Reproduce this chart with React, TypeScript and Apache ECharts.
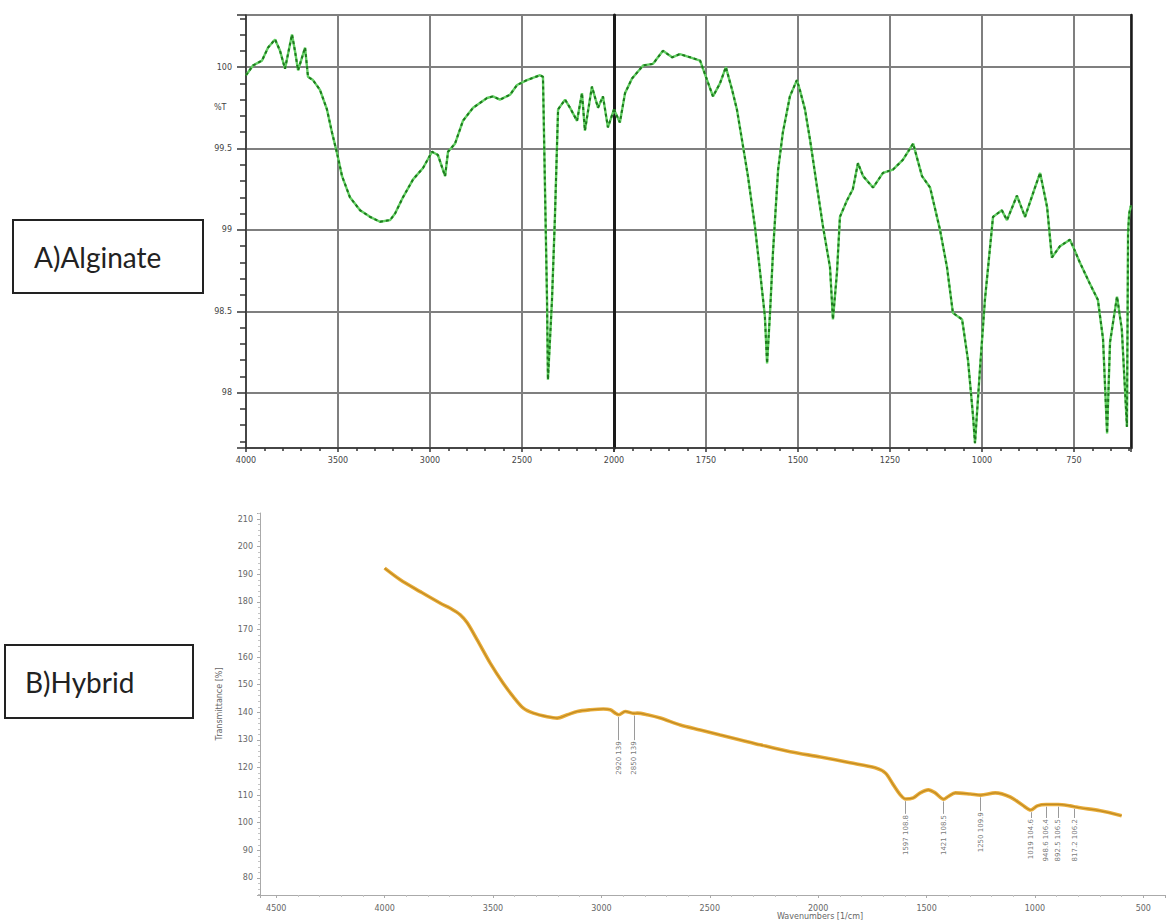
import React, { useEffect, useRef } from "react";
import * as echarts from "echarts";

// ---------- A) Alginate FTIR (wavenumber cm-1, %T) ----------
const alginateWn = [
  4000, 3962, 3913, 3880, 3842, 3815, 3788, 3750, 3734, 3717, 3679, 3663, 3636, 3598, 3560, 3533, 3505, 3478,
  3435, 3380, 3326, 3272, 3217, 3190, 3147, 3092, 3038, 2989, 2957, 2918, 2902, 2864, 2821, 2766, 2690, 2658,
  2620, 2565, 2527, 2473, 2402, 2386, 2364, 2359, 2337, 2321, 2304, 2266, 2239, 2201, 2174, 2158, 2120, 2087,
  2060, 2033, 2000, 1984, 1970, 1951, 1921, 1894, 1867, 1842, 1821, 1793, 1766, 1747, 1731, 1712, 1696, 1679,
  1666, 1652, 1636, 1617, 1603, 1590, 1584, 1576, 1568, 1554, 1541, 1522, 1503, 1495, 1481, 1467, 1448, 1432,
  1413, 1405, 1394, 1386, 1367, 1351, 1337, 1323, 1296, 1269, 1242, 1215, 1187, 1163, 1141, 1114, 1095, 1079,
  1054, 1038, 1024, 1019, 1005, 992, 970, 946, 932, 905, 883, 856, 842, 823, 810, 788, 761, 753, 734, 707, 685,
  671, 660, 652, 633, 620, 606, 603, 600, 595,
];
const alginateT = [
  99.95, 100.01, 100.04, 100.12, 100.17, 100.1, 99.99, 100.2, 100.1, 99.98, 100.12, 99.94, 99.92, 99.86, 99.74,
  99.6, 99.47, 99.33, 99.2, 99.12, 99.08, 99.05, 99.06, 99.1, 99.2, 99.31, 99.38, 99.48, 99.46, 99.33, 99.48,
  99.53, 99.67, 99.75, 99.81, 99.82, 99.8, 99.83, 99.89, 99.92, 99.95, 99.94, 98.57, 98.08, 98.57, 99.08, 99.74,
  99.8, 99.75, 99.67, 99.84, 99.61, 99.88, 99.75, 99.82, 99.63, 99.74, 99.66, 99.84, 99.93, 100.01, 100.02,
  100.1, 100.06, 100.08, 100.06, 100.04, 99.92, 99.82, 99.9, 100.0, 99.86, 99.74, 99.55, 99.33, 99.02, 98.74,
  98.47, 98.18, 98.49, 98.86, 99.37, 99.6, 99.82, 99.92, 99.86, 99.74, 99.55, 99.26, 99.02, 98.77, 98.45, 98.74,
  99.08, 99.18, 99.25, 99.41, 99.33, 99.26, 99.35, 99.37, 99.43, 99.53, 99.33, 99.26, 99.0, 98.77, 98.49, 98.45,
  98.2, 97.85, 97.69, 98.16, 98.57, 99.08, 99.12, 99.06, 99.21, 99.08, 99.26, 99.35, 99.14, 98.83, 98.9, 98.94,
  98.9, 98.8, 98.67, 98.57, 98.33, 97.75, 98.31, 98.59, 98.39, 97.79, 98.98, 99.1, 99.15,
];

// ---------- B) Hybrid FTIR (wavenumber cm-1, Transmittance %) ----------
const hybridWn = [
  4000, 3928, 3836, 3743, 3697, 3651, 3619, 3573, 3513, 3453, 3407, 3360, 3314, 3250, 3204, 3157, 3111, 3051,
  2991, 2959, 2936, 2920, 2890, 2850, 2835, 2788, 2728, 2636, 2544, 2452, 2359, 2267, 2129, 1990, 1852, 1737,
  1690, 1653, 1621, 1597, 1561, 1529, 1492, 1460, 1421, 1400, 1367, 1298, 1250, 1183, 1114, 1058, 1019, 989,
  948.6, 892.5, 837, 817.2, 791, 698, 600,
];
const hybridT = [
  192.2, 188.0, 183.7, 179.5, 177.7, 175.3, 172.4, 166.2, 157.8, 150.5, 145.7, 141.5, 139.7, 138.4, 137.9, 139.1,
  140.3, 140.9, 141.2, 140.9, 139.7, 139.1, 140.3, 139.6, 139.7, 139.1, 137.9, 135.4, 133.6, 131.8, 130.0, 128.2,
  125.7, 123.8, 121.7, 119.9, 118.0, 113.7, 110.1, 108.6, 109.0, 110.8, 111.9, 110.8, 108.5, 109.5, 110.8, 110.4,
  110.0, 110.8, 109.3, 106.4, 104.6, 106.1, 106.6, 106.6, 106.1, 105.8, 105.4, 104.3, 102.5,
];

// Peak annotations of the hybrid spectrum
const peakWn = [2920, 2850, 1597, 1421, 1250, 1019, 948.6, 892.5, 817.2];
const peakCurveT = [139.1, 139.6, 108.6, 108.5, 110.0, 104.6, 106.6, 106.6, 105.8];
const peakLabelTopT = [129.5, 129.5, 102.8, 102.8, 103.8, 101.3, 101.3, 101.3, 101.3];
const peakLabels = [
  "2920 139", "2850 139", "1597 108.8", "1421 108.5", "1250 109.9",
  "1019 104.6", "948.6 106.4", "892.5 106.5", "817.2 106.2",
];

// Panel captions
const panelTitles = ["A)Alginate", "B)Hybrid"];

export default function App() {
  const ref = useRef<HTMLDivElement>(null);

  useEffect(() => {
    if (!ref.current) return;
    const chart = echarts.init(ref.current, null, { renderer: "svg" });

    const ptsA: number[][] = [];
    const ptsB: number[][] = [];
    alginateWn.forEach((w, i) => {
      if (w >= 2000) ptsA.push([w, alginateT[i]]);
      if (w <= 2000) ptsB.push([-w, alginateT[i]]);
    });
    const hybridPts = hybridWn.map((w, i) => [w, hybridT[i]]);
    const peakPts = peakWn.map((w, i) => [w, peakLabelTopT[i]]);

    const gridCol = "#7f7f7f";
    const darkAx = "#333";
    const topFmt = (v: number) => {
      const r = Math.round(v * 2) / 2;
      if (Math.abs(v - r) > 1e-6) return "";
      return Number.isInteger(r) ? String(r) : r.toFixed(1);
    };
    const topYBase = {
      type: "value",
      min: 97.66,
      max: 100.32,
      splitNumber: 5,
      splitLine: { show: true, lineStyle: { color: gridCol, width: 2 } },
    };

    const option: any = {
      animation: false,
      backgroundColor: "#ffffff",
      grid: [
        { left: 246, top: 15, width: 368, height: 433, show: true, borderColor: "#555", borderWidth: 1 },
        { left: 614, top: 15, width: 517, height: 433, show: true, borderColor: "#555", borderWidth: 1 },
        { left: 260, top: 513, width: 905, height: 382 },
      ],
      xAxis: [
        {
          gridIndex: 0,
          type: "value",
          min: 2000,
          max: 4000,
          interval: 500,
          inverse: true,
          axisLine: { show: true, onZero: false, lineStyle: { color: darkAx, width: 1.5 } },
          axisTick: { show: true, length: 4, lineStyle: { color: darkAx, width: 1.5 } },
          minorTick: { show: true, splitNumber: 5, length: 3, lineStyle: { color: darkAx, width: 1.5 } },
          axisLabel: {
            fontSize: 8,
            color: "#444",
            margin: 8,
            fontFamily: "DejaVu Sans",
            formatter: (v: number) => String(v),
          },
          splitLine: { show: true, lineStyle: { color: gridCol, width: 2 } },
        },
        {
          gridIndex: 1,
          type: "value",
          min: -2000,
          max: -595,
          interval: 250,
          axisLine: { show: true, onZero: false, lineStyle: { color: darkAx, width: 1.5 } },
          axisTick: { show: true, length: 4, lineStyle: { color: darkAx, width: 1.5 } },
          minorTick: { show: true, splitNumber: 5, length: 3, lineStyle: { color: darkAx, width: 1.5 } },
          axisLabel: {
            fontSize: 8,
            color: "#444",
            margin: 8,
            fontFamily: "DejaVu Sans",
            showMinLabel: false,
            showMaxLabel: false,
            formatter: (v: number) => String(-v),
          },
          splitLine: { show: true, lineStyle: { color: gridCol, width: 2 } },
        },
        {
          gridIndex: 2,
          type: "value",
          min: 400,
          max: 4575,
          splitNumber: 8,
          inverse: true,
          axisLine: { show: true, onZero: false, lineStyle: { color: "#aaaaaa", width: 1 } },
          axisTick: { show: true, length: 3, lineStyle: { color: "#aaaaaa" } },
          minorTick: { show: true, splitNumber: 5, length: 2, lineStyle: { color: "#c4c4c4" } },
          axisLabel: {
            fontSize: 8,
            color: "#666",
            margin: 9,
            fontFamily: "DejaVu Sans",
            showMinLabel: false,
            showMaxLabel: false,
            formatter: (v: number) => (Math.abs(v / 500 - Math.round(v / 500)) < 1e-6 ? String(v) : ""),
          },
          splitLine: { show: false },
        },
      ],
      yAxis: [
        {
          ...topYBase,
          gridIndex: 0,
          axisLine: { show: true, lineStyle: { color: darkAx, width: 1.5 } },
          axisTick: { show: true, length: 9, lineStyle: { color: darkAx, width: 1.5 } },
          minorTick: { show: true, splitNumber: 5, length: 6, lineStyle: { color: darkAx, width: 1.5 } },
          axisLabel: {
            fontSize: 8,
            color: "#444",
            margin: 14,
            fontFamily: "DejaVu Sans",
            showMinLabel: false,
            showMaxLabel: false,
            formatter: topFmt,
          },
        },
        {
          ...topYBase,
          gridIndex: 1,
          axisLine: { show: true, lineStyle: { color: "#1a1a1a", width: 3 } },
          axisTick: { show: false },
          axisLabel: { show: false },
        },
        {
          ...topYBase,
          gridIndex: 1,
          position: "right",
          splitLine: { show: false },
          axisLine: { show: true, lineStyle: { color: "#1a1a1a", width: 2.5 } },
          axisTick: { show: false },
          axisLabel: { show: false },
        },
        {
          gridIndex: 2,
          type: "value",
          min: 73.8,
          max: 212.2,
          splitNumber: 14,
          axisLine: { show: true, lineStyle: { color: "#aaaaaa", width: 1 } },
          axisTick: { show: true, length: 3, lineStyle: { color: "#aaaaaa" } },
          minorTick: { show: true, splitNumber: 5, length: 2, lineStyle: { color: "#c4c4c4" } },
          axisLabel: {
            fontSize: 8,
            color: "#666",
            margin: 7,
            fontFamily: "DejaVu Sans",
            showMinLabel: false,
            showMaxLabel: false,
            formatter: (v: number) => (Math.abs(v / 10 - Math.round(v / 10)) < 1e-6 ? String(Math.round(v)) : ""),
          },
          splitLine: { show: false },
          name: "Transmittance [%]",
          nameLocation: "middle",
          nameGap: 37,
          nameTextStyle: { fontSize: 8, color: "#666", fontFamily: "DejaVu Sans" },
        },
      ],
      series: [
        {
          type: "line",
          xAxisIndex: 0,
          yAxisIndex: 0,
          data: ptsA,
          symbol: "none",
          lineStyle: { color: "#62cf62", width: 2.4 },
          z: 3,
        },
        {
          type: "line",
          xAxisIndex: 0,
          yAxisIndex: 0,
          data: ptsA,
          symbol: "none",
          lineStyle: { color: "#1d7a1d", width: 2, type: [3, 3] },
          z: 4,
        },
        {
          type: "line",
          xAxisIndex: 1,
          yAxisIndex: 1,
          data: ptsB,
          symbol: "none",
          lineStyle: { color: "#62cf62", width: 2.4 },
          z: 3,
        },
        {
          type: "line",
          xAxisIndex: 1,
          yAxisIndex: 1,
          data: ptsB,
          symbol: "none",
          lineStyle: { color: "#1d7a1d", width: 2, type: [3, 3] },
          z: 4,
        },
        {
          type: "line",
          xAxisIndex: 2,
          yAxisIndex: 3,
          data: hybridPts,
          symbol: "none",
          smooth: 0.3,
          lineStyle: { color: "#e9ad3a", width: 3.6 },
          z: 3,
        },
        {
          type: "line",
          xAxisIndex: 2,
          yAxisIndex: 3,
          data: hybridPts,
          symbol: "none",
          smooth: 0.3,
          lineStyle: { color: "#c08a22", width: 1.2 },
          z: 4,
        },
        {
          type: "scatter",
          xAxisIndex: 2,
          yAxisIndex: 3,
          data: peakPts,
          symbol: "circle",
          symbolSize: 2,
          itemStyle: { color: "rgba(0,0,0,0)" },
          labelLayout: { hideOverlap: false },
          label: {
            show: true,
            position: "inside",
            rotate: 90,
            align: "right",
            verticalAlign: "middle",
            fontSize: 7,
            color: "#555",
            fontFamily: "DejaVu Sans",
            formatter: (p: any) => peakLabels[p.dataIndex],
          },
          markLine: {
            silent: true,
            symbol: ["none", "none"],
            label: { show: false },
            lineStyle: { color: "#9a9a9a", width: 1, type: "solid" },
            data: peakWn.map((w, i) => [
              { coord: [w, peakCurveT[i] - 0.8] },
              { coord: [w, peakLabelTopT[i] + 0.4] },
            ]),
          },
          z: 5,
        },
      ],
      graphic: [
        {
          type: "rect",
          shape: { x: 13, y: 220, width: 190, height: 73 },
          style: { fill: "#fff", stroke: "#222", lineWidth: 2 },
        },
        {
          type: "text",
          x: 34,
          y: 257,
          style: {
            text: panelTitles[0],
            font: "28px Lato",
            fill: "#222",
            textVerticalAlign: "middle",
          },
        },
        {
          type: "rect",
          shape: { x: 5, y: 645, width: 188, height: 73 },
          style: { fill: "#fff", stroke: "#222", lineWidth: 2 },
        },
        {
          type: "text",
          x: 25,
          y: 682,
          style: {
            text: panelTitles[1],
            font: "28px Lato",
            fill: "#222",
            textVerticalAlign: "middle",
          },
        },
        {
          type: "text",
          x: 214,
          y: 107,
          style: { text: "%T", font: "8px 'DejaVu Sans'", fill: "#444", textVerticalAlign: "middle" },
        },
        {
          type: "text",
          x: 820,
          y: 916,
          style: {
            text: "Wavenumbers [1/cm]",
            font: "8px 'DejaVu Sans'",
            fill: "#666",
            textAlign: "center",
            textVerticalAlign: "middle",
          },
        },
      ],
    };

    chart.setOption(option);
    return () => chart.dispose();
  }, []);

  return (
    <div
      ref={ref}
      style={{ position: "absolute", left: 0, top: 0, width: 1170, height: 924, background: "#fff" }}
    />
  );
}
